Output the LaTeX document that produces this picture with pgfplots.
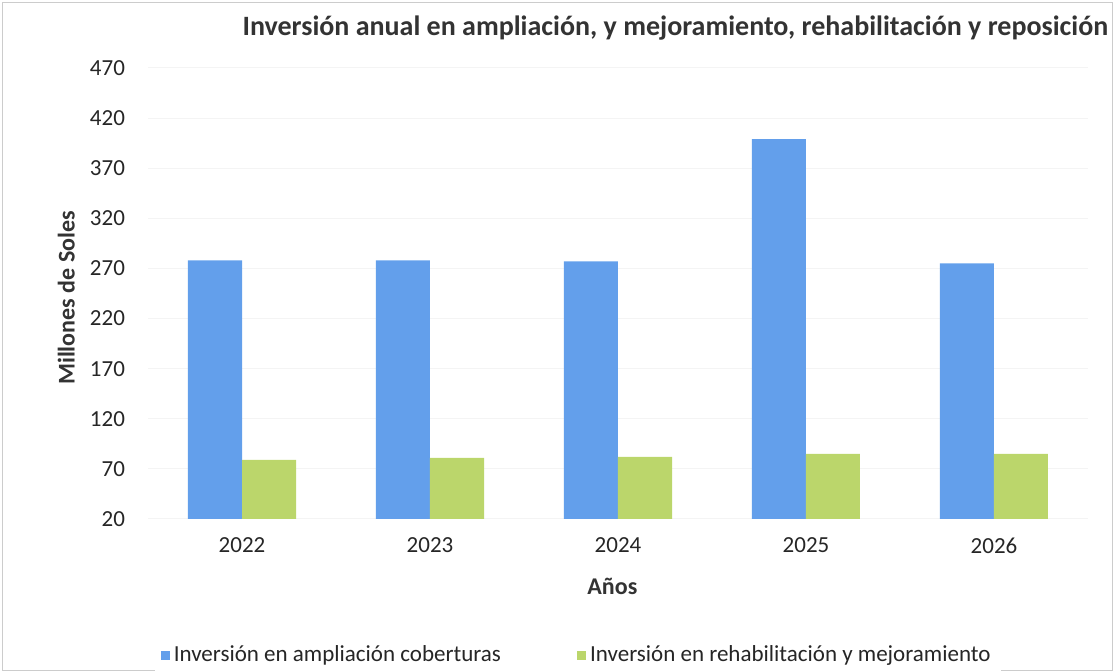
\documentclass[border=0pt]{standalone}
\usepackage{pgfplots}
\pgfplotsset{compat=1.18}
\usepackage{fontspec}
\setmainfont{Carlito}
\definecolor{barblue}{RGB}{99,159,235}
\definecolor{bargreen}{RGB}{187,214,107}
\begin{document}
\begin{tikzpicture}[x=1pt,y=1pt]
\path[use as bounding box] (0,0) rectangle (557,336);
\draw[gray!40, line width=0.4pt] (1,1) rectangle (556,335);
\begin{axis}[
  at={(74pt,76.5pt)}, anchor=south west,
  scale only axis, width=470pt, height=225.5pt,
  ybar=0pt, bar width=27pt,
  xmin=-0.5, xmax=4.5, ymin=20, ymax=470,
  xtick=data, xticklabels={2022,2023,2024,2025,2026},
  ytick={20,70,...,470},
  ymajorgrids, grid style={gray!9, line width=0.5pt},
  axis line style={draw=none},
  major tick length=0pt,
  tick label style={font=\fontsize{11.5}{13}\selectfont, text=black!85},
  /pgf/number format/assume math mode=true,
  yticklabel style={xshift=-8pt},
  xticklabel style={yshift=-6pt},
  title={\textbf{Inversión anual en ampliación, y mejoramiento, rehabilitación y reposición}},
  title style={font=\fontsize{14}{16}\selectfont, text=black!80, at={(axis description cs:0.561,1.062)}, anchor=center},
  xlabel={\textbf{Años}},
  xlabel style={font=\fontsize{12}{14}\selectfont, text=black!80, at={(axis description cs:0.494,-0.149)}, anchor=center},
  ylabel={\textbf{Millones de Soles}},
  ylabel style={font=\fontsize{12}{14}\selectfont, text=black!80, at={(axis description cs:-0.087,0.49)}, anchor=center, rotate=0},
  legend columns=2,
  legend style={draw=none, font=\fontsize{11.5}{13}\selectfont, text=black!85, at={(axis description cs:0.457,-0.302)}, anchor=center, /tikz/every even column/.append style={column sep=36pt}},
  legend image code/.code={\fill[#1] (0pt,-2.3pt) rectangle (4.6pt,2.3pt);},
]
\addplot[fill=barblue, draw=none] coordinates {(0,278) (1,278) (2,277) (3,399) (4,275)};
\addplot[fill=bargreen, draw=none] coordinates {(0,79) (1,81) (2,82) (3,85) (4,85)};
\legend{Inversión en ampliación coberturas, Inversión en rehabilitación y mejoramiento}
\end{axis}
\end{tikzpicture}
\end{document}
